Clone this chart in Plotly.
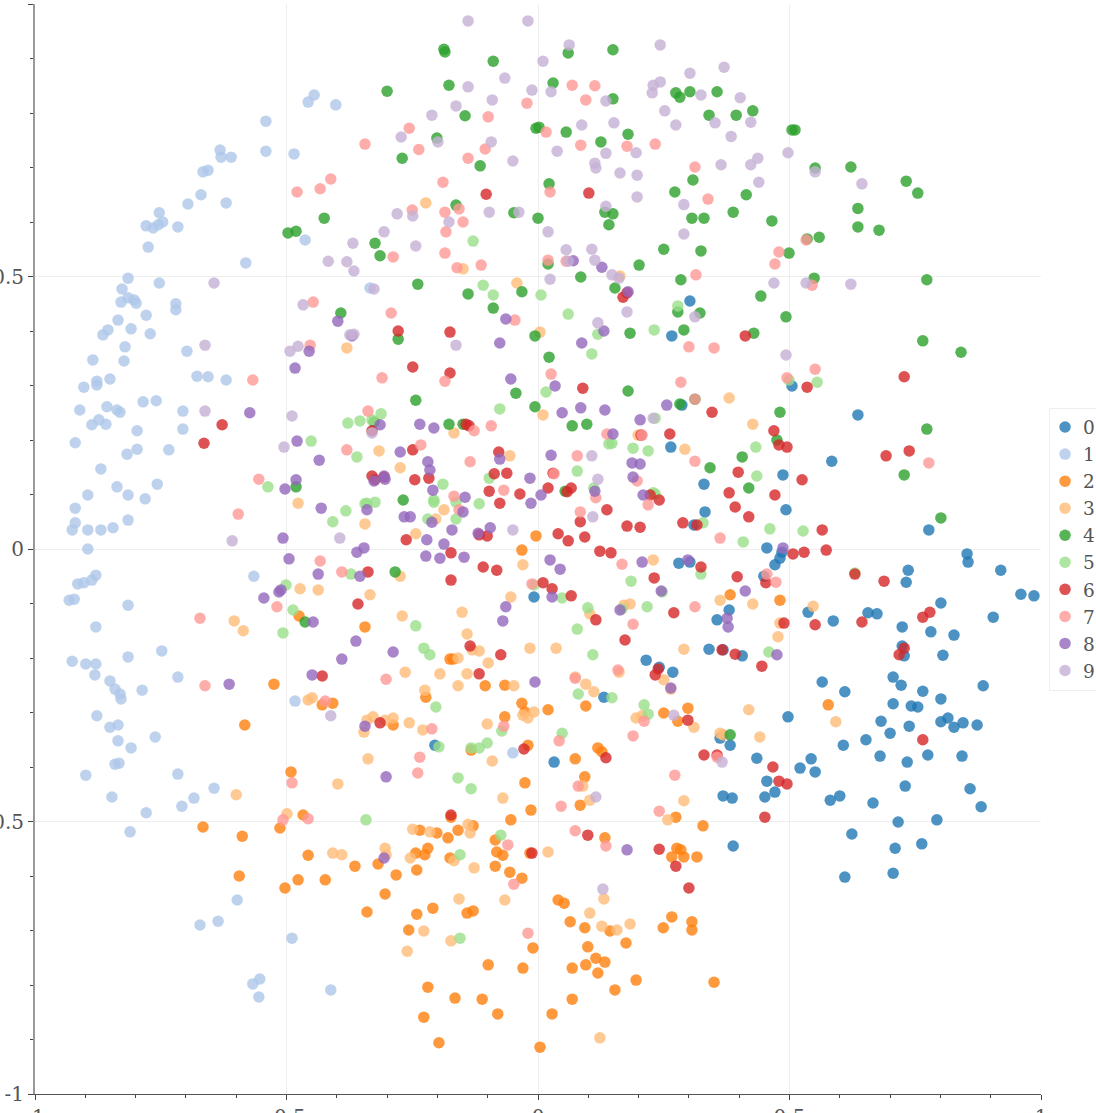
import plotly.graph_objects as go

digit_0 = [(.986,-.086),(.960,-.083),(.920,-.039),(.853,-.009),(.855,-.024),(.905,-.125),(.801,-.099),(.736,-.039),(.732,-.061),(.781,-.152),(.724,-.143),(.674,-.119),(.656,-.117),(.587,-.132),(.537,-.116),(.827,-.158),(.805,-.195),(.728,-.196),(.724,-.178),(.706,-.235),(.722,-.250),(.765,-.261),(.801,-.275),(.885,-.251),(.742,-.288),(.755,-.290),(.706,-.284),(.682,-.316),(.738,-.325),(.801,-.317),(.815,-.310),(.827,-.327),(.845,-.319),(.873,-.323),(.843,-.380),(.775,-.378),(.734,-.391),(.730,-.435),(.700,-.338),(.652,-.350),(.607,-.360),(.680,-.380),(.859,-.440),(.881,-.473),(.793,-.497),(.763,-.541),(.716,-.501),(.666,-.466),(.600,-.453),(.581,-.461),(.551,-.409),(.521,-.402),(.543,-.385),(.435,-.384),(.382,-.360),(.362,-.347),(.497,-.308),(.565,-.244),(.610,-.262),(.624,-.523),(.710,-.549),(.706,-.595),(.610,-.602),(.388,-.545),(.368,-.453),(.386,-.457),(.451,-.455),(.471,-.446),(.455,-.426),(.032,-.391),(.131,-.272),(-.205,-.360),(.215,-.204),(.241,-.217),(.268,-.226),(.340,-.184),(.368,-.185),(.406,-.196),(.356,-.130),(.380,-.112),(.280,-.026),(.302,-.024),(.332,.068),(.330,.119),(.310,.044),(.286,.264),(.264,.187),(.302,.455),(.266,.391),(.505,.299),(.636,.246),(.584,.161),(.777,.035),(.455,.002),(.481,-.017),(.471,-.029),(.485,-.006),(.449,-.050),(.493,.072),(.487,.136),(-.008,-.088)]
digit_1 = [(-.932,-.094),(-.922,-.092),(-.915,-.064),(-.903,-.062),(-.887,-.057),(-.879,-.048),(-.895,0),(-.920,.048),(-.920,.075),(-.926,.035),(-.895,.035),(-.869,.035),(-.845,.039),(-.815,.053),(-.895,.099),(-.837,.114),(-.815,.099),(-.781,.092),(-.757,.119),(-.869,.147),(-.817,.174),(-.797,.183),(-.797,.217),(-.831,.251),(-.837,.255),(-.857,.261),(-.859,.229),(-.887,.228),(-.873,.237),(-.920,.195),(-.911,.255),(-.903,.297),(-.877,.301),(-.877,.308),(-.851,.312),(-.885,.347),(-.821,.371),(-.785,.270),(-.759,.272),(-.734,.182),(-.706,.220),(-.706,.253),(-.678,.317),(-.656,.316),(-.620,.310),(-.698,.363),(-.720,.439),(-.720,.450),(-.771,.395),(-.779,.429),(-.809,.404),(-.865,.393),(-.855,.402),(-.835,.420),(-.829,.453),(-.815,.461),(-.815,.497),(-.827,.477),(-.803,.457),(-.799,.451),(-.823,.345),(-.753,.488),(-.775,.554),(-.779,.593),(-.765,.589),(-.755,.595),(-.746,.600),(-.753,.617),(-.716,.591),(-.696,.633),(-.670,.650),(-.666,.692),(-.656,.695),(-.632,.732),(-.630,.719),(-.610,.719),(-.620,.635),(-.581,.525),(-.541,.785),(-.541,.730),(-.485,.725),(-.457,.820),(-.445,.833),(-.402,.815),(-.463,.567),(-.334,.479),(-.565,-.050),(-.815,-.103),(-.879,-.143),(-.926,-.206),(-.899,-.211),(-.879,-.211),(-.881,-.231),(-.851,-.242),(-.841,-.257),(-.831,-.266),(-.829,-.275),(-.787,-.259),(-.748,-.187),(-.815,-.198),(-.716,-.235),(-.877,-.306),(-.851,-.327),(-.835,-.323),(-.835,-.352),(-.841,-.395),(-.833,-.393),(-.809,-.365),(-.761,-.345),(-.716,-.413),(-.779,-.484),(-.708,-.472),(-.684,-.457),(-.644,-.439),(-.811,-.519),(-.899,-.415),(-.847,-.455),(-.672,-.690),(-.636,-.683),(-.598,-.644),(-.489,-.714),(-.567,-.798),(-.553,-.789),(-.555,-.822),(-.412,-.809),(-.483,-.279),(-.050,-.374)]
digit_2 = [(.004,-.914),(-.197,-.906),(-.227,-.859),(-.219,-.804),(-.165,-.824),(-.111,-.826),(-.080,-.853),(.028,-.853),(.068,-.826),(.153,-.809),(.195,-.791),(.350,-.795),(.119,-.778),(.095,-.763),(.115,-.751),(.133,-.758),(.068,-.769),(.099,-.730),(-.030,-.769),(-.099,-.763),(-.010,-.732),(-.257,-.699),(-.241,-.670),(-.209,-.659),(-.141,-.668),(-.129,-.664),(-.340,-.666),(-.304,-.633),(-.423,-.607),(-.477,-.607),(-.503,-.622),(-.594,-.600),(-.588,-.527),(-.666,-.510),(-.364,-.582),(-.318,-.578),(-.282,-.598),(-.241,-.589),(-.225,-.561),(-.219,-.549),(-.201,-.521),(-.179,-.530),(-.159,-.516),(-.129,-.508),(-.243,-.558),(-.173,-.492),(-.235,-.516),(-.085,-.534),(-.082,-.556),(-.070,-.562),(-.085,-.582),(-.056,-.593),(-.032,-.604),(-.016,-.558),(-.054,-.497),(-.014,-.479),(-.026,-.429),(-.020,-.360),(-.066,-.308),(-.032,-.283),(-.026,-.299),(.020,-.295),(.074,-.385),(.119,-.365),(.127,-.372),(.093,-.418),(.084,-.470),(.133,-.530),(.040,-.644),(.052,-.650),(.064,-.684),(.143,-.701),(.093,-.695),(.175,-.723),(.249,-.695),(.266,-.675),(.306,-.699),(.306,-.684),(.276,-.549),(.290,-.565),(.266,-.565),(.316,-.565),(.274,-.492),(.328,-.508),(.278,-.316),(.250,-.301),(.298,-.292),(.382,-.084),(.481,-.094),(-.004,.024),(-.032,-.002),(-.105,-.251),(-.066,-.250),(-.175,-.202),(-.169,-.202),(-.133,-.369),(-.223,-.272),(-.288,-.323),(-.429,-.286),(-.408,-.283),(-.525,-.248),(-.583,-.323),(-.491,-.409),(-.467,-.488),(-.457,-.562),(.577,-.286),(-.513,-.512),(-.475,-.123),(-.344,-.143),(-.175,-.567),(.095,-.288),(.284,-.552)]
digit_3 = [(.123,-.897),(-.260,-.738),(-.227,-.701),(-.066,-.644),(-.157,-.642),(.131,-.642),(.127,-.692),(.157,-.699),(.183,-.688),(.103,-.668),(.103,-.461),(.290,-.462),(.258,-.497),(.089,-.435),(-.600,-.451),(-.604,-.132),(-.586,-.150),(-.499,-.486),(-.473,-.073),(-.408,-.558),(-.390,-.561),(-.304,-.549),(-.302,-.561),(-.254,-.567),(-.249,-.514),(-.215,-.519),(-.398,-.431),(-.338,-.385),(-.340,-.314),(-.328,-.308),(-.288,-.310),(-.256,-.319),(-.229,-.332),(-.264,-.226),(-.225,-.259),(-.195,-.229),(-.159,-.251),(-.159,-.200),(-.099,-.209),(-.048,-.251),(-.101,-.321),(-.091,-.389),(-.070,-.457),(-.016,-.182),(.036,-.182),(-.020,-.310),(.074,-.235),(.111,-.262),(.195,-.310),(.207,-.306),(.250,-.240),(.290,-.184),(.310,-.327),(.419,-.295),(.362,-.338),(.441,-.345),(.477,-.161),(.481,-.136),(.547,-.105),(.592,-.317),(.380,.277),(.427,.229),(.292,.183),(.199,.209),(.229,-.020),(.362,-.094),(.171,-.103),(.183,-.101),(-.151,-.116),(-.141,-.156),(-.131,-.185),(-.054,-.088),(-.030,-.029),(-.334,-.084),(-.274,-.050),(-.270,-.123),(-.437,-.075),(-.457,-.277),(-.449,-.273),(-.380,.369),(-.223,.635),(-.149,.514),(-.042,.488),(.004,.398),(.010,.246),(-.056,.171),(-.274,.149),(-.243,.028),(-.187,.072),(-.203,.055),(-.344,.046),(-.316,.180),(-.167,.213),(-.477,.084),(.020,-.556),(.103,-.119),(.427,-.101),(.161,-.226),(.095,-.248),(.264,-.257),(.368,-.341),(-.117,-.187),(-.141,-.229),(-.304,-.314),(-.346,-.336),(-.030,-.305),(-.008,-.299),(-.139,-.505),(-.135,-.521),(-.167,-.572),(-.127,-.585),(-.173,-.719),(.163,.501)]
digit_4 = [(-.187,.917),(-.185,.912),(-.300,.840),(-.177,.851),(-.089,.895),(-.145,.795),(.060,.910),(.149,.916),(.030,.855),(.149,.826),(.302,.839),(.356,.839),(.274,.837),(.282,.829),(.340,.796),(.394,.796),(.427,.804),(.056,.765),(.179,.761),(.125,.747),(-.004,.772),(.002,.774),(-.201,.754),(-.270,.717),(-.115,.703),(.149,.615),(.133,.618),(.141,.595),(.022,.670),(0,.607),(-.048,.617),(-.163,.631),(-.425,.607),(-.481,.583),(-.497,.580),(-.324,.561),(-.314,.538),(-.239,.486),(-.392,.433),(-.278,.385),(-.177,.229),(-.243,.273),(-.139,.468),(-.089,.442),(-.032,.472),(-.006,.391),(.022,.352),(.068,.226),(.097,.229),(.179,.290),(.183,.396),(.153,.479),(.085,.499),(.020,.523),(.201,.521),(.250,.550),(.272,.655),(.308,.677),(.306,.607),(.330,.607),(.388,.618),(.414,.650),(.465,.602),(.324,.547),(.284,.494),(.290,.402),(.322,.433),(.443,.464),(.429,.396),(.493,.426),(.535,.569),(.559,.572),(.499,.543),(.549,.497),(.636,.625),(.636,.591),(.622,.701),(.551,.699),(.678,.585),(.732,.675),(.755,.653),(.773,.494),(.765,.382),(.841,.361),(.773,.220),(.801,.057),(.728,.136),(.481,.251),(.475,.200),(.406,.169),(.342,.149),(.419,.112),(.282,.266),(.505,.769),(.511,.769),(.382,-.341),(-.284,-.042),(-.463,-.134),(-.268,.090),(-.326,.233),(-.149,.229),(-.044,.286),(-.006,.261),(-.481,.114),(.312,.275),(.054,.106),(.278,.435)]
digit_5 = [(-.129,.565),(-.109,.484),(-.089,.466),(.006,.466),(.060,.431),(.107,.358),(.016,.288),(-.076,.257),(.147,.194),(.078,.143),(.219,.180),(.233,.101),(.328,.048),(.408,.013),(.461,.037),(.527,.033),(.630,-.044),(.555,.306),(.433,.187),(.278,.446),(.231,.402),(-.097,.130),(-.207,.090),(-.378,.231),(-.354,.235),(-.330,.237),(-.408,.050),(-.382,.070),(-.340,.084),(-.324,.086),(-.163,.055),(-.163,.086),(-.372,-.046),(-.501,-.066),(-.487,-.112),(-.507,-.154),(-.227,-.182),(-.215,-.194),(-.203,-.290),(-.342,-.497),(-.159,-.420),(-.133,-.440),(-.133,-.365),(-.197,-.363),(-.101,-.356),(-.117,-.365),(.048,-.338),(.078,-.147),(.080,-.266),(.099,-.108),(.109,-.194),(.147,-.273),(.167,-.110),(.185,-.059),(.217,-.106),(.211,-.286),(.219,-.303),(-.451,.198),(-.537,.114),(-.155,-.561),(-.155,-.714),(-.074,-.525),(-.008,-.066),(.229,.103),(-.189,.119),(-.207,.086),(-.117,.083),(-.219,.055),(-.344,.083),(-.312,.248),(-.360,.169),(.119,.394),(.499,.310),(.233,.240),(.435,.134),(.111,.112),(.141,.193),(.189,.185),(-.243,-.141),(-.072,-.334),(.324,-.046),(.247,-.079),(.048,-.090),(.459,-.189)]
digit_6 = [(-.664,.194),(-.628,.228),(-.278,.400),(-.249,.334),(-.175,.398),(-.175,.323),(-.143,.229),(-.103,.651),(.101,.653),(.089,.295),(.169,.462),(.177,.470),(.346,.251),(.412,.391),(.728,.316),(.738,.180),(.692,.171),(.535,.297),(.495,.187),(.469,.217),(.380,.103),(.398,.141),(.392,.077),(.419,.059),(.525,.127),(.479,.191),(.262,.211),(.241,.090),(.288,.048),(.316,.044),(.137,.072),(.145,-.007),(.123,-.004),(.060,.015),(.093,.022),(.040,.028),(.020,.112),(-.036,.101),(-.078,.178),(-.087,.138),(-.097,.106),(-.076,.084),(-.062,.139),(.066,.112),(.058,.105),(.030,.139),(-.217,.130),(-.245,.127),(-.249,.182),(-.330,.134),(-.306,.132),(-.324,.127),(-.262,.017),(-.358,-.101),(-.314,-.319),(-.173,-.488),(-.012,-.558),(.099,-.525),(.241,-.551),(.274,-.582),(.300,-.622),(.330,-.378),(.356,-.378),(.467,-.400),(.495,-.431),(.451,-.492),(.479,-.426),(.445,-.215),(.489,-.136),(.366,-.185),(.392,-.193),(.396,-.051),(.565,.035),(.573,-.002),(.630,-.046),(.644,-.134),(.688,-.059),(.765,-.125),(.779,-.116),(.718,-.194),(.728,-.182),(.765,-.350),(.529,-.006),(.507,-.009),(.203,.040),(.231,-.053),(.270,-.117),(.173,-.167),(.115,-.130),(-.135,-.178),(-.173,-.057),(-.109,-.033),(-.082,-.039),(.010,-.062),(-.173,-.007),(-.101,.024),(.177,.042),(.223,.099),(-.074,-.194),(.028,-.073),(.066,-.086),(.551,-.139),(.239,-.220),(.233,-.231),(.135,-.383),(.298,-.314),(.324,-.033),(.453,-.062),(-.117,-.229),(-.338,-.042),(-.429,-.233),(-.028,-.367),(-.330,.217),(-.137,.226),(-.117,.026),(.205,.209),(.471,.099),(.084,.050)]
digit_7 = [(-.344,.743),(-.256,.772),(-.189,.673),(-.479,.655),(-.433,.661),(-.412,.679),(-.250,.622),(-.185,.618),(-.157,.624),(-.183,.582),(-.185,.543),(-.288,.536),(-.161,.516),(-.113,.521),(-.447,.453),(-.453,.374),(-.292,.433),(-.310,.314),(-.185,.308),(-.567,.310),(-.555,.128),(-.596,.064),(-.672,-.127),(-.662,-.251),(-.433,-.022),(-.390,-.042),(-.302,-.239),(-.048,-.615),(-.020,-.705),(.074,-.517),(.135,-.545),(.080,-.435),(.189,-.343),(.074,-.237),(.159,-.222),(.241,-.481),(.272,-.415),(.312,-.106),(.362,.020),(.312,.161),(.300,.371),(.350,.369),(.284,.306),(.314,.503),(.312,.701),(.338,.642),(.233,.743),(.177,.739),(.113,.850),(.085,.741),(-.022,.818),(-.099,.793),(-.139,.717),(.024,.655),(.020,.530),(.026,.321),(-.046,.420),(.078,.171),(.137,.211),(.207,.209),(.219,.081),(.084,.068),(.167,-.028),(.495,.314),(.551,.330),(.545,.484),(.479,.545),(.471,.523),(.533,.567),(.777,.158),(.473,-.061),(.068,.851),(-.489,-.429),(-.507,-.497),(-.457,-.495),(-.519,-.106),(.189,-.138),(.211,-.316),(.042,-.352),(.356,-.382),(.046,-.472),(.455,-.046),(-.423,-.279),(-.211,-.330),(-.235,-.382),(-.239,-.411),(-.068,-.325),(-.012,-.064),(-.060,-.543),(-.237,.733),(-.105,.734),(-.149,.600),(-.338,.253),(-.127,.217),(-.093,.226),(-.380,.182),(-.233,.191),(-.135,.160),(-.068,.108),(-.167,.097),(-.157,.072),(.016,.765),(.056,.528),(.197,.125),(.115,.094),(.032,.138),(.312,.275),(.095,.824)]
digit_8 = [(-.614,-.248),(-.573,.250),(-.483,.332),(-.455,.363),(-.479,.198),(-.481,.127),(-.503,.110),(-.507,.020),(-.495,-.018),(-.545,-.090),(-.515,-.079),(-.511,-.075),(-.449,-.231),(-.437,-.046),(-.447,-.134),(-.435,.163),(-.431,.075),(-.360,-.006),(-.346,.002),(-.304,.128),(-.274,.178),(-.235,.229),(-.254,.059),(-.266,.059),(-.221,.017),(-.223,-.013),(-.195,-.017),(-.147,-.015),(-.171,.035),(-.209,.108),(-.219,.160),(-.215,.145),(-.076,.165),(-.095,.039),(-.145,.095),(-.149,.068),(-.119,.029),(-.076,.378),(-.054,.312),(.034,.299),(.087,.378),(.131,.400),(.127,.517),(.179,.472),(.203,.237),(.133,.255),(.085,.259),(.048,.250),(.149,.211),(.113,.106),(.187,.158),(.203,.156),(.209,.099),(.207,-.024),(.245,-.077),(.256,.264),(.378,-.143),(.412,-.077),(.475,-.194),(.487,.002),(.177,-.552),(-.302,-.418),(-.344,-.325),(-.362,-.169),(-.390,-.202),(-.354,-.050),(-.016,.130),(.006,.099),(.024,-.020),(.028,-.088),(-.006,-.244),(.264,-.255),(-.398,.418),(-.370,.391),(-.314,.228),(-.064,.422),(-.207,.222),(-.326,.125),(-.306,.134),(-.340,.072),(-.211,.049),(-.187,.009),(-.014,.084),(.026,.172),(.189,.132),(.070,.529),(-.288,-.189),(-.064,-.106),(-.070,-.132),(-.306,-.567),(.044,-.037),(.298,-.020),(.376,-.127),(.163,-.112)]
digit_9 = [(-.139,.969),(-.020,.969),(.062,.925),(.243,.925),(.010,.895),(-.066,.864),(-.012,.842),(.026,.839),(-.139,.848),(-.211,.796),(-.163,.813),(-.091,.824),(.229,.851),(.243,.857),(.227,.837),(.302,.873),(.370,.884),(.324,.833),(.402,.828),(.423,.783),(.352,.782),(.274,.778),(.252,.804),(.151,.782),(.135,.822),(.087,.778),(.038,.730),(-.050,.712),(-.093,.747),(-.199,.747),(-.272,.756),(.113,.708),(.115,.699),(.163,.690),(.197,.686),(.197,.646),(.364,.705),(.423,.705),(.437,.717),(.439,.673),(.497,.727),(.551,.692),(.644,.670),(.290,.578),(.135,.629),(.056,.549),(.060,.528),(.107,.550),(.147,.503),(.161,.497),(.177,.435),(.119,.415),(.024,.495),(.020,.582),(-.038,.618),(-.097,.618),(-.177,.600),(-.249,.611),(-.280,.615),(-.306,.582),(-.243,.556),(-.368,.561),(-.417,.528),(-.380,.527),(-.366,.510),(-.326,.477),(-.366,.394),(-.374,.393),(-.467,.448),(-.477,.372),(-.493,.363),(-.662,.374),(-.644,.488),(-.662,.253),(-.489,.244),(-.505,.187),(-.608,.015),(-.330,.213),(-.394,.020),(-.050,.035),(.109,.059),(.119,.128),(.312,.426),(.533,.488),(.622,.486),(.493,.356),(.366,-.391),(.129,-.624),(.115,-.455),(-.412,-.306),(-.163,.374),(.229,.240),(.270,-.305),(.384,.757),(.135,.726),(.195,.727),(.290,.632),(.113,.530),(.469,.488),(.107,.171)]

series = [digit_0, digit_1, digit_2, digit_3, digit_4, digit_5, digit_6, digit_7, digit_8, digit_9]
colors = ["#1f77b4","#aec7e8","#ff7f0e","#ffbb78","#2ca02c","#98df8a","#d62728","#ff9896","#9467bd","#c5b0d5"]
tick_vals = [-1, -0.5, 0, 0.5, 1]
tick_text = ["-1", "-0.5", "0", "0.5", "1"]

fig = go.Figure()
for i, pts in enumerate(series):
    fig.add_trace(go.Scatter(x=[p[0] for p in pts], y=[p[1] for p in pts], mode="markers", name=str(i),
                             marker=dict(color=colors[i], size=11.5, opacity=0.8, line=dict(width=0))))

axis = dict(range=[-1, 1], tickmode="array", tickvals=tick_vals, ticktext=tick_text, automargin=False,
            showgrid=True, gridcolor="#eeeeee", gridwidth=1, zeroline=False, ticks="outside", ticklen=5,
            tickcolor="#444444", showline=True,
            minor=dict(tickmode="linear", tick0=0, dtick=0.1, ticks="outside", ticklen=3, tickcolor="#444444", showgrid=False),
            tickfont=dict(family="DejaVu Serif", size=20, color="#555555"))
fig.update_layout(width=1096, height=1113, margin=dict(l=35, r=55, t=4, b=19, autoexpand=False), plot_bgcolor="white", paper_bgcolor="white",
                  xaxis={**axis, "linecolor": "#555555", "linewidth": 1},
                  yaxis={**axis, "linecolor": "#999999", "linewidth": 2},
                  legend=dict(x=1.008, xanchor="left", y=0.5, yanchor="middle", bordercolor="#eeeeee", borderwidth=1,
                              font=dict(family="DejaVu Serif", size=18.5, color="#555555"), tracegroupgap=0))
legend_js = """
document.body.style.margin='0';document.body.style.overflow='hidden';
setTimeout(function(){
  document.querySelectorAll('.legend .traces').forEach(function(t){
    var m=(t.getAttribute('transform')||'').match(/translate\\(([-\\d.]+)[, ]+([-\\d.]+)\\)/);
    if(m){t.setAttribute('transform','translate('+(parseFloat(m[1])-5)+','+m[2]+')');}
    var txt=t.querySelector('.legendtext');
    if(txt){txt.setAttribute('x',parseFloat(txt.getAttribute('x'))-2);}
    t.querySelectorAll('.scatterpts path').forEach(function(p){p.style.transform=(p.style.transform||'')+' scale(0.78)';});
  });
  document.querySelectorAll('.legend .scrollbox').forEach(function(s){s.removeAttribute('clip-path');s.style.clipPath='none';});
},50);
"""
fig.write_html("out.html", config={"displayModeBar": False}, post_script=legend_js)
